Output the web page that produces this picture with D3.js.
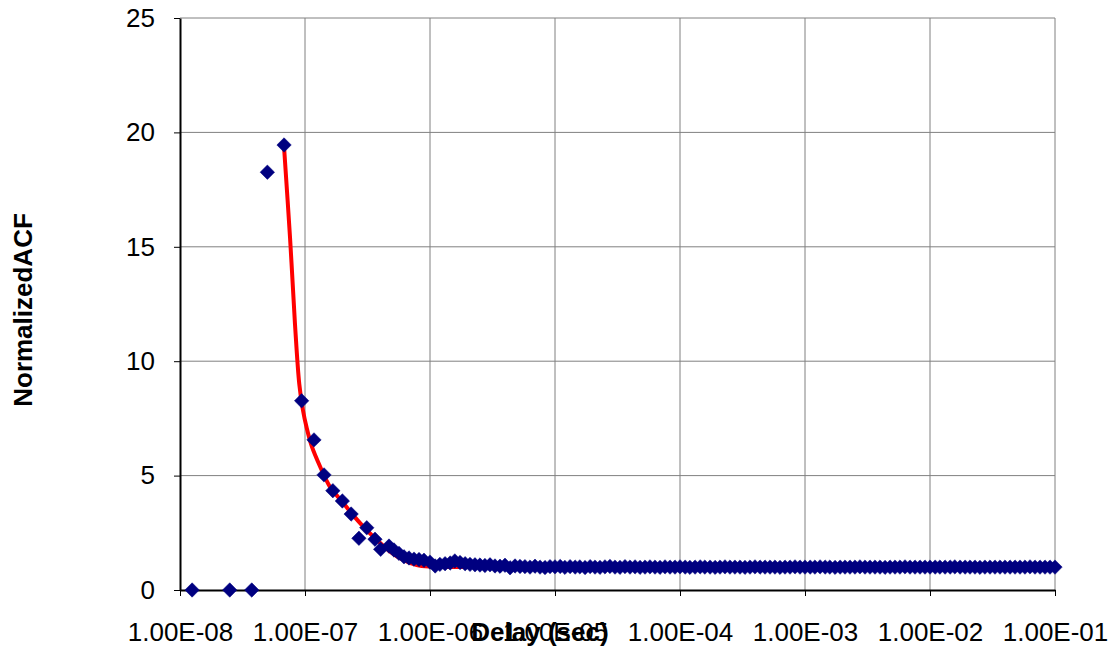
<!DOCTYPE html>
<html>
<head>
<meta charset="utf-8">
<script src="https://cdn.jsdelivr.net/npm/d3@7"></script>
<style>
  body { margin: 0; background: #fff; }
  svg { display: block; font-family: "Liberation Sans", Arial, sans-serif; }
</style>
</head>
<body>
<div id="chart"></div>
<script>
// measured ACF points (delay in sec, normalized ACF)
const earlyDelay = [1.25e-8, 2.5e-8, 3.75e-8, 5.0e-8, 6.8e-8, 9.4e-8, 1.18e-7, 1.42e-7, 1.67e-7, 1.99e-7,
  2.34e-7, 2.70e-7, 3.12e-7, 3.63e-7, 4.03e-7, 4.70e-7, 5.15e-7, 5.65e-7, 6.19e-7, 6.79e-7, 7.45e-7, 8.17e-7, 8.95e-7];
const earlyValue = [0, 0, 0, 18.26, 19.45, 8.27, 6.56, 5.03, 4.34, 3.89,
  3.32, 2.26, 2.72, 2.22, 1.78, 1.92, 1.75, 1.6, 1.45, 1.4, 1.35, 1.33, 1.3];

const midDelay = [1.00e-6, 1.10e-6, 1.20e-6, 1.32e-6, 1.45e-6, 1.58e-6, 1.74e-6, 1.91e-6, 2.09e-6, 2.29e-6,
  2.51e-6, 2.75e-6, 3.02e-6, 3.31e-6, 3.63e-6, 3.98e-6, 4.37e-6, 4.79e-6, 5.25e-6, 5.75e-6,
  6.31e-6, 6.92e-6, 7.59e-6, 8.32e-6, 9.12e-6];
const midValue = [1.22, 1.05, 1.12, 1.15, 1.18, 1.27, 1.2, 1.15, 1.12, 1.1,
  1.09, 1.07, 1.1, 1.05, 1.04, 1.08, 0.97, 1.05, 1.03, 1.02,
  1.0, 1.04, 1.0, 0.98, 1.02];

const tailDelay = [
  1.00e-5, 1.10e-5, 1.20e-5, 1.32e-5, 1.45e-5, 1.58e-5, 1.74e-5, 1.91e-5, 2.09e-5, 2.29e-5, 2.51e-5, 2.75e-5, 3.02e-5,
  3.31e-5, 3.63e-5, 3.98e-5, 4.37e-5, 4.79e-5, 5.25e-5, 5.75e-5, 6.31e-5, 6.92e-5, 7.59e-5, 8.32e-5, 9.12e-5,
  1.00e-4, 1.10e-4, 1.20e-4, 1.32e-4, 1.45e-4, 1.58e-4, 1.74e-4, 1.91e-4, 2.09e-4, 2.29e-4, 2.51e-4, 2.75e-4, 3.02e-4,
  3.31e-4, 3.63e-4, 3.98e-4, 4.37e-4, 4.79e-4, 5.25e-4, 5.75e-4, 6.31e-4, 6.92e-4, 7.59e-4, 8.32e-4, 9.12e-4,
  1.00e-3, 1.10e-3, 1.20e-3, 1.32e-3, 1.45e-3, 1.58e-3, 1.74e-3, 1.91e-3, 2.09e-3, 2.29e-3, 2.51e-3, 2.75e-3, 3.02e-3,
  3.31e-3, 3.63e-3, 3.98e-3, 4.37e-3, 4.79e-3, 5.25e-3, 5.75e-3, 6.31e-3, 6.92e-3, 7.59e-3, 8.32e-3, 9.12e-3,
  1.00e-2, 1.10e-2, 1.20e-2, 1.32e-2, 1.45e-2, 1.58e-2, 1.74e-2, 1.91e-2, 2.09e-2, 2.29e-2, 2.51e-2, 2.75e-2, 3.02e-2,
  3.31e-2, 3.63e-2, 3.98e-2, 4.37e-2, 4.79e-2, 5.25e-2, 5.75e-2, 6.31e-2, 6.92e-2, 7.59e-2, 8.32e-2, 9.12e-2,
  1.00e-1];
const tailValue = [
  1.01, 1.03, 0.99, 1.02, 1.00, 1.01, 0.98, 1.02, 1.00, 0.99, 1.01, 1.03, 1.00,
  0.99, 1.02, 1.00, 1.01, 0.99, 1.00, 1.01, 1.00, 0.99, 1.01, 1.00, 1.00,
  1.01, 1.00, 0.99, 1.00, 1.01, 1.00, 1.00, 0.99, 1.00, 1.01, 1.00, 1.00, 1.00,
  0.99, 1.00, 1.01, 1.00, 1.00, 1.00, 1.00, 0.99, 1.00, 1.00, 1.01, 1.00,
  1.00, 1.00, 1.00, 1.01, 1.00, 1.00, 0.99, 1.00, 1.00, 1.00, 1.00, 1.01, 1.00,
  1.00, 1.00, 1.00, 0.99, 1.00, 1.00, 1.00, 1.01, 1.00, 1.00, 1.00, 1.00,
  1.00, 1.00, 1.00, 1.00, 1.00, 1.01, 1.00, 1.00, 1.00, 1.00, 0.99, 1.00, 1.00,
  1.00, 1.00, 1.00, 1.00, 1.00, 1.00, 1.00, 1.01, 1.00, 1.00, 1.00, 1.00,
  1.00];

// fitted curve (red line)
const fitDelay = [6.79e-8, 7.59e-8, 8.32e-8, 9.0e-8, 9.6e-8, 1.03e-7, 1.13e-7, 1.32e-7, 1.58e-7, 1.97e-7,
  2.36e-7, 2.93e-7, 3.75e-7, 4.79e-7, 6.11e-7, 7.83e-7, 1.0e-6, 2.0e-6, 1.0e-5, 1.0e-4, 1.0e-3, 1.0e-2, 1.0e-1];
const fitValue = [19.4, 15.4, 11.6, 9.0, 7.9, 7.1, 6.3, 5.4, 4.52, 3.88,
  3.35, 2.77, 2.19, 1.68, 1.31, 1.09, 1.02, 1.0, 1.0, 1.0, 1.0, 1.0, 1.0];

const xTicks = [1e-8, 1e-7, 1e-6, 1e-5, 1e-4, 1e-3, 1e-2, 1e-1];
const xTickLabels = ["1.00E-08", "1.00E-07", "1.00E-06", "1.00E-05", "1.00E-04", "1.00E-03", "1.00E-02", "1.00E-01"];
const yTicks = [0, 5, 10, 15, 20, 25];

const width = 1113, height = 646;
const plot = { left: 180, right: 1055, top: 18, bottom: 590 };

const svg = d3.select('#chart').append('svg')
  .attr('width', width)
  .attr('height', height);

const x = d3.scaleLog().domain([1e-8, 1e-1]).range([plot.left, plot.right]);
const y = d3.scaleLinear().domain([0, 25]).range([plot.bottom, plot.top]);

// gridlines
svg.append('g').selectAll('line.h')
  .data(yTicks.filter(d => d > 0))
  .enter().append('line')
  .attr('x1', plot.left).attr('x2', plot.right)
  .attr('y1', d => y(d)).attr('y2', d => y(d))
  .attr('stroke', '#808080').attr('stroke-width', 1);

svg.append('g').selectAll('line.v')
  .data(xTicks.slice(1))
  .enter().append('line')
  .attr('x1', d => x(d)).attr('x2', d => x(d))
  .attr('y1', plot.top).attr('y2', plot.bottom)
  .attr('stroke', '#808080').attr('stroke-width', 1);

// axes
const yAxis = svg.append('g')
  .attr('transform', 'translate(' + plot.left + ',0)')
  .call(d3.axisLeft(y).tickValues(yTicks).tickSize(6).tickSizeOuter(0).tickPadding(19));

const xAxis = svg.append('g')
  .attr('transform', 'translate(0,' + plot.bottom + ')')
  .call(d3.axisBottom(x).tickValues(xTicks).tickSize(6).tickSizeOuter(0)
    .tickFormat((d, i) => xTickLabels[i]));

[yAxis, xAxis].forEach(g => {
  g.select('.domain').attr('stroke', '#000').attr('stroke-width', 2);
  g.selectAll('.tick line').attr('stroke', '#000').attr('stroke-width', 1);
  g.selectAll('text')
    .attr('fill', '#000')
    .style('font-family', '"Liberation Sans", Arial, sans-serif')
    .style('font-size', '26px');
});
xAxis.selectAll('text').attr('y', 0).attr('dy', null).attr('transform', 'translate(0,51)');

// fitted line
svg.append('path')
  .datum(fitDelay.map((d, i) => [d, fitValue[i]]))
  .attr('fill', 'none')
  .attr('stroke', '#ff0000')
  .attr('stroke-width', 4)
  .attr('stroke-linejoin', 'round')
  .attr('d', d3.line()
    .x(d => x(d[0]))
    .y(d => y(d[1]))
    .curve(d3.curveCatmullRom.alpha(0.5)));

// data points
const points = earlyDelay.map((d, i) => [d, earlyValue[i]])
  .concat(midDelay.map((d, i) => [d, midValue[i]]))
  .concat(tailDelay.map((d, i) => [d, tailValue[i]]));

svg.append('g').selectAll('path.pt')
  .data(points)
  .enter().append('path')
  .attr('d', d3.symbol(d3.symbolSquare, 104))
  .attr('transform', d => 'translate(' + x(d[0]) + ',' + y(d[1]) + ') rotate(45)')
  .attr('fill', '#000080')
  .attr('stroke', '#000080')
  .attr('stroke-width', 0.5);

// axis titles
svg.append('text')
  .attr('x', 540)
  .attr('y', 641)
  .attr('text-anchor', 'middle')
  .style('font-size', '26px')
  .style('font-weight', 'bold')
  .text('Delay (sec)');

svg.append('text')
  .attr('transform', 'translate(32,310) rotate(-90)')
  .attr('text-anchor', 'middle')
  .style('font-size', '26px')
  .style('font-weight', 'bold')
  .text('NormalizedACF');
</script>
</body>
</html>
